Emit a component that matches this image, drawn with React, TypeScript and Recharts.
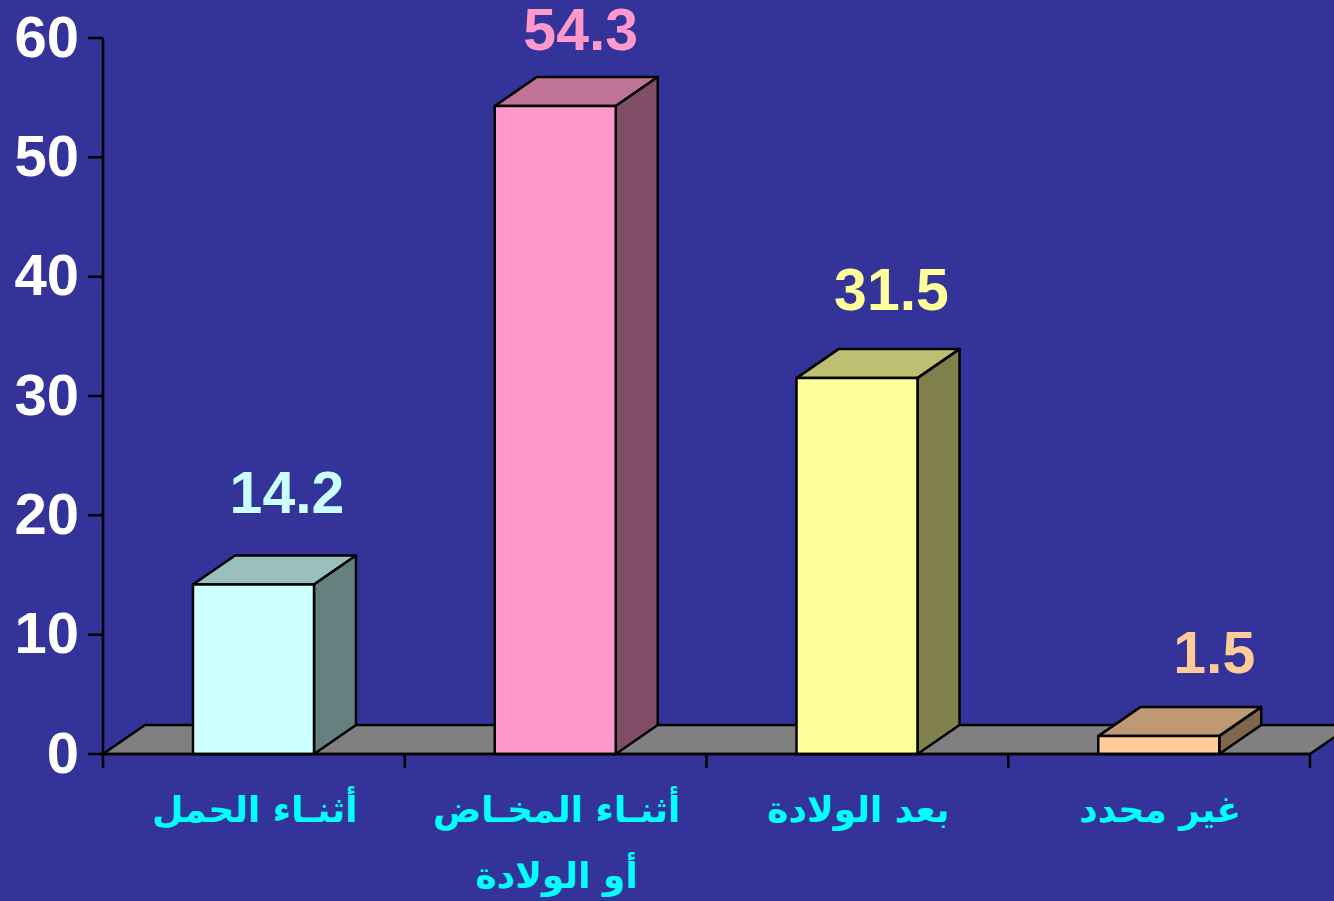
import React from "react";
import { BarChart, Bar, XAxis, YAxis, ReferenceArea, LabelList } from "recharts";

const categories = ["أثنـاء الحمل", "أثنـاء المخـاض\nأو الولادة", "بعد الولادة", "غير محدد"];
const values = [14.2, 54.3, 31.5, 1.5];
const valueLabels = ["14.2", "54.3", "31.5", "1.5"];
const yTicks = [0, 10, 20, 30, 40, 50, 60];
const barColors = ["#CCFFFF", "#FF99CC", "#FFFF99", "#FFCC99"];

const WIDTH = 1334;
const HEIGHT = 901;
const MARGIN_RIGHT = 24;
const AXIS_WIDTH = 103;
const DEPTH_X = 42;
const DEPTH_Y = 29;
const LINE = "#000000";
const STROKE = 2.5;
const LATIN_FONT = "'Liberation Sans', Arial, sans-serif";
const ARABIC_FONT = "'DejaVu Sans', sans-serif";

// where each value label sits relative to the top left of the bar
const labelOffsets = [
    { dx: 94, dy: -72 },
    { dx: 86, dy: -56 },
    { dx: 95, dy: -68 },
    { dx: 116, dy: -63 },
];

const chartData = categories.map((name, i) => ({ name, value: values[i] }));

// darkens a hex colour for the top and side faces
const shade = (hex: string, factor: number) => {
    const n = parseInt(hex.slice(1), 16);
    const r = Math.round(((n >> 16) & 255) * factor);
    const g = Math.round(((n >> 8) & 255) * factor);
    const b = Math.round((n & 255) * factor);
    return `rgb(${r},${g},${b})`;
};

const Box3D = (props: any) => {
    const { x, y, width, height, index } = props;
    const color = barColors[index];
    const right = x + width;
    const bottom = y + height;
    return (
        <g stroke={LINE} strokeWidth={STROKE} strokeLinejoin="round">
            <polygon
                points={`${x},${y} ${x + DEPTH_X},${y - DEPTH_Y} ${right + DEPTH_X},${y - DEPTH_Y} ${right},${y}`}
                fill={shade(color, 0.75)}
            />
            <polygon
                points={`${right},${y} ${right + DEPTH_X},${y - DEPTH_Y} ${right + DEPTH_X},${bottom - DEPTH_Y} ${right},${bottom}`}
                fill={shade(color, 0.5)}
            />
            <rect x={x} y={y} width={width} height={height} fill={color} />
        </g>
    );
};

const Floor = (props: any) => {
    const { x, y, width, height } = props;
    const bottom = y + height;
    const right = x + width;
    return (
        <polygon
            points={`${x},${bottom} ${x + DEPTH_X},${bottom - DEPTH_Y} ${right + DEPTH_X},${bottom - DEPTH_Y} ${right},${bottom}`}
            fill="#808080"
            stroke={LINE}
            strokeWidth={STROKE}
        />
    );
};

const CategoryTick = (props: any) => {
    const { x, y, payload, index } = props;
    const half = (WIDTH - MARGIN_RIGHT - AXIS_WIDTH) / categories.length / 2;
    const lines = String(payload.value).split("\n");
    // recharts pushes y down by its default tick size, so the axis is 8px above y
    const axisY = y - 8;
    return (
        <g>
            <line x1={x - half} y1={axisY} x2={x - half} y2={axisY + 14} stroke={LINE} strokeWidth={STROKE} />
            {index === categories.length - 1 && (
                <line x1={x + half} y1={axisY} x2={x + half} y2={axisY + 14} stroke={LINE} strokeWidth={STROKE} />
            )}
            {lines.map((line, i) => (
                <text
                    key={i}
                    x={x + 1}
                    y={axisY + 68 + i * 66}
                    textAnchor="middle"
                    fill="#00FFFF"
                    fontFamily={ARABIC_FONT}
                    fontWeight="bold"
                    fontSize={36}
                >
                    {line}
                </text>
            ))}
        </g>
    );
};

const ValueLabel = (props: any) => {
    const { x, y, index } = props;
    const offset = labelOffsets[index];
    return (
        <text
            x={x + offset.dx}
            y={y + offset.dy}
            textAnchor="middle"
            fill={barColors[index]}
            fontFamily={LATIN_FONT}
            fontWeight="bold"
            fontSize={59}
        >
            {valueLabels[index]}
        </text>
    );
};

const App: React.FC = () => {
    return (
        <div style={{ position: "absolute", left: 0, top: 0, width: WIDTH, height: HEIGHT, background: "#333399", overflow: "hidden" }}>
            <BarChart
                width={WIDTH}
                height={HEIGHT}
                data={chartData}
                margin={{ top: 38, right: MARGIN_RIGHT, bottom: 0, left: 0 }}
            >
                <XAxis
                    dataKey="name"
                    height={147}
                    interval={0}
                    axisLine={{ stroke: LINE, strokeWidth: STROKE }}
                    tickLine={false}
                    tick={<CategoryTick />}
                />
                <YAxis
                    width={AXIS_WIDTH}
                    domain={[0, 60]}
                    ticks={yTicks}
                    interval={0}
                    axisLine={{ stroke: LINE, strokeWidth: STROKE }}
                    tickLine={{ stroke: LINE, strokeWidth: STROKE }}
                    tickSize={15}
                    tickMargin={9}
                    tick={{ fill: "#FFFFFF", fontFamily: LATIN_FONT, fontWeight: "bold", fontSize: 58, dy: -2 }}
                />
                <ReferenceArea y1={0} y2={60} shape={<Floor />} ifOverflow="visible" />
                <Bar dataKey="value" barSize={121} shape={<Box3D />} isAnimationActive={false}>
                    <LabelList dataKey="value" content={<ValueLabel />} />
                </Bar>
            </BarChart>
        </div>
    );
};

export default App;
